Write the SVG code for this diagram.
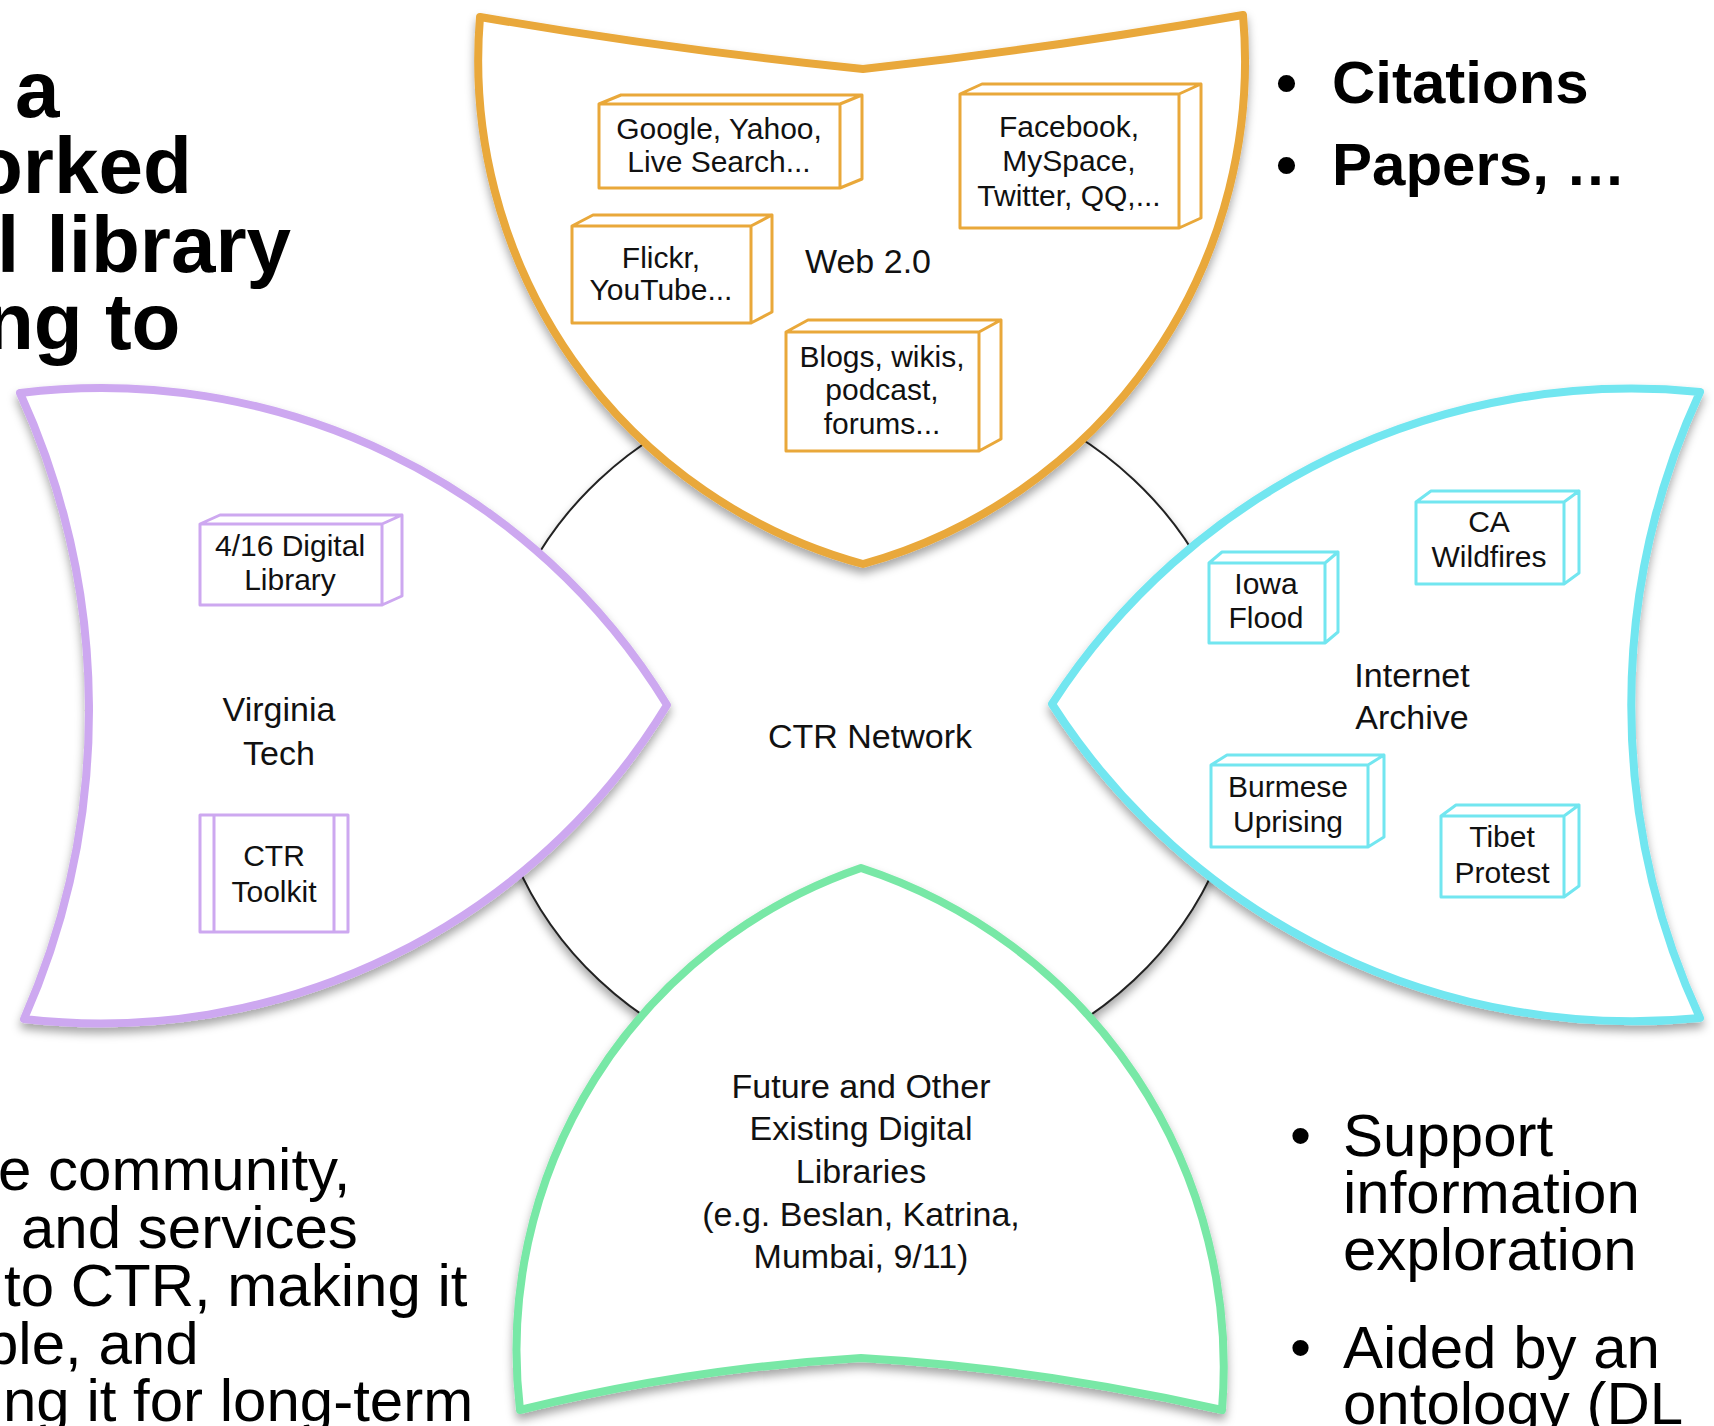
<svg xmlns="http://www.w3.org/2000/svg" width="1714" height="1426" viewBox="0 0 1714 1426">
<defs>
<filter id="sh" x="-10%" y="-10%" width="120%" height="125%">
<feDropShadow dx="0" dy="6" stdDeviation="5" flood-color="#000" flood-opacity="0.35"/>
</filter>
<style>
.shape{fill:#fff;stroke-width:8;stroke-linejoin:round;filter:url(#sh)}
.box{fill:#fff;stroke-width:3;stroke-linejoin:round}
.or{stroke:#E9A83A}.pu{stroke:#CDA8F0}.cy{stroke:#72E6F0}.gr{stroke:#78E8A6}
.lbl{font-family:"Liberation Sans",Arial,sans-serif;font-size:30px;text-anchor:middle;fill:#111}
.mid{font-size:34px}
.bigb{font-family:"Liberation Sans",Arial,sans-serif;font-weight:bold;font-size:80px;fill:#000}
.hb{font-family:"Liberation Sans",Arial,sans-serif;font-weight:bold;font-size:60px;fill:#000}
.body{font-family:"Liberation Sans",Arial,sans-serif;font-size:60px;fill:#000}
</style>
</defs>
<rect width="1714" height="1426" fill="#fff"/>

<g id="page-text">
<text class="bigb" x="15" y="117">a</text>
<text class="bigb" x="-26" y="193">orked</text>
<text class="bigb" x="-3" y="272" word-spacing="5">l library</text>
<text class="bigb" x="-15" y="349">ng to</text>
<text class="hb" x="1276" y="103">•</text>
<text class="hb" x="1332" y="103">Citations</text>
<text class="hb" x="1276" y="185">•</text>
<text class="hb" x="1332" y="185">Papers, …</text>
<text class="body" x="-2" y="1190">e community,</text>
<text class="body" x="21" y="1248">and services</text>
<text class="body" x="4" y="1306">to CTR, making it</text>
<text class="body" x="-15" y="1364">ble, and</text>
<text class="body" x="3" y="1421">ng it for long-term</text>
<text class="body" x="1290" y="1156">•</text>
<text class="body" x="1343" y="1156">Support</text>
<text class="body" x="1343" y="1213">information</text>
<text class="body" x="1343" y="1270">exploration</text>
<text class="body" x="1290" y="1368">•</text>
<text class="body" x="1343" y="1368">Aided by an</text>
<text class="body" x="1343" y="1424">ontology (DL</text>
</g>

<g id="connectors"></g>

<g id="ctr-network">
<ellipse cx="866.5" cy="730" rx="378" ry="354" fill="#fff" stroke="#222" stroke-width="2" filter="url(#sh)"/>
<text class="lbl mid" x="870" y="748" font-size="35">CTR Network</text>
</g>

<g id="web20">
<path class="shape or" d="M480,17 Q672,50 863,69 Q1053,48 1243,15 A522,522 0 0 1 863,564 A522,522 0 0 1 480,17 Z"/>
<text class="lbl mid" x="868" y="273">Web 2.0</text>
<g id="box-google">
<path class="box or" d="M599,104 h241 v84 h-241 Z M599,104 l22,-9 h241 l-22,9 Z M840,104 l22,-9 v84 l-22,9 Z"/>
<text class="lbl" x="719" y="139">Google, Yahoo,</text>
<text class="lbl" x="719" y="172">Live Search...</text>
</g>
<g id="box-facebook">
<path class="box or" d="M960,94 h219 v134 h-219 Z M960,94 l22,-10 h219 l-22,10 Z M1179,94 l22,-10 v134 l-22,10 Z"/>
<text class="lbl" x="1069" y="137">Facebook,</text>
<text class="lbl" x="1069" y="171">MySpace,</text>
<text class="lbl" x="1069" y="206">Twitter, QQ,...</text>
</g>
<g id="box-flickr">
<path class="box or" d="M572,226 h179 v97 h-179 Z M572,226 l21,-11 h179 l-21,11 Z M751,226 l21,-11 v97 l-21,11 Z"/>
<text class="lbl" x="661" y="268">Flickr,</text>
<text class="lbl" x="661" y="300">YouTube...</text>
</g>
<g id="box-blogs">
<path class="box or" d="M786,332 h193 v119 h-193 Z M786,332 l22,-12 h193 l-22,12 Z M979,332 l22,-12 v119 l-22,12 Z"/>
<text class="lbl" x="882" y="367">Blogs, wikis,</text>
<text class="lbl" x="882" y="400">podcast,</text>
<text class="lbl" x="882" y="434">forums...</text>
</g>
</g>

<g id="virginia-tech">
<path class="shape pu" d="M20,393 A663,663 0 0 1 667,705 A663,663 0 0 1 24,1019 A765,765 0 0 0 20,393 Z"/>
<text class="lbl mid" x="279" y="721">Virginia</text>
<text class="lbl mid" x="279" y="765">Tech</text>
<g id="box-dl416">
<path class="box pu" d="M200,524 h182 v81 h-182 Z M200,524 l20,-9 h182 l-20,9 Z M382,524 l20,-9 v81 l-20,9 Z"/>
<text class="lbl" x="290" y="556">4/16 Digital</text>
<text class="lbl" x="290" y="590">Library</text>
</g>
<g id="box-toolkit">
<path class="box pu" d="M200,815 h148 v117 h-148 Z M214,815 v117 M334,815 v117"/>
<text class="lbl" x="274" y="866">CTR</text>
<text class="lbl" x="274" y="902">Toolkit</text>
</g>
</g>

<g id="internet-archive">
<path class="shape cy" d="M1700,392 A690,690 0 0 0 1052,704 A690,690 0 0 0 1700,1018 A747,747 0 0 1 1700,392 Z"/>
<text class="lbl mid" x="1412" y="687">Internet</text>
<text class="lbl mid" x="1412" y="729">Archive</text>
<g id="box-iowa">
<path class="box cy" d="M1209,563 h116 v80 h-116 Z M1209,563 l13,-11 h116 l-13,11 Z M1325,563 l13,-11 v80 l-13,11 Z"/>
<text class="lbl" x="1266" y="594">Iowa</text>
<text class="lbl" x="1266" y="628">Flood</text>
</g>
<g id="box-ca">
<path class="box cy" d="M1416,502 h148 v82 h-148 Z M1416,502 l15,-11 h148 l-15,11 Z M1564,502 l15,-11 v82 l-15,11 Z"/>
<text class="lbl" x="1489" y="532">CA</text>
<text class="lbl" x="1489" y="567">Wildfires</text>
</g>
<g id="box-burmese">
<path class="box cy" d="M1211,765 h157 v82 h-157 Z M1211,765 l16,-10 h157 l-16,10 Z M1368,765 l16,-10 v82 l-16,10 Z"/>
<text class="lbl" x="1288" y="797">Burmese</text>
<text class="lbl" x="1288" y="832">Uprising</text>
</g>
<g id="box-tibet">
<path class="box cy" d="M1441,816 h123 v81 h-123 Z M1441,816 l15,-11 h123 l-15,11 Z M1564,816 l15,-11 v81 l-15,11 Z"/>
<text class="lbl" x="1502" y="847">Tibet</text>
<text class="lbl" x="1502" y="883">Protest</text>
</g>
</g>

<g id="future-dl">
<path class="shape gr" d="M861,868 A510,510 0 0 0 520,1410 Q690,1368 861,1358 Q1035,1368 1222,1410 A525,525 0 0 0 861,868 Z"/>
<text class="lbl mid" x="861" y="1098">Future and Other</text>
<text class="lbl mid" x="861" y="1140">Existing Digital</text>
<text class="lbl mid" x="861" y="1183">Libraries</text>
<text class="lbl mid" x="861" y="1226">(e.g. Beslan, Katrina,</text>
<text class="lbl mid" x="861" y="1268">Mumbai, 9/11)</text>
</g>
</svg>
